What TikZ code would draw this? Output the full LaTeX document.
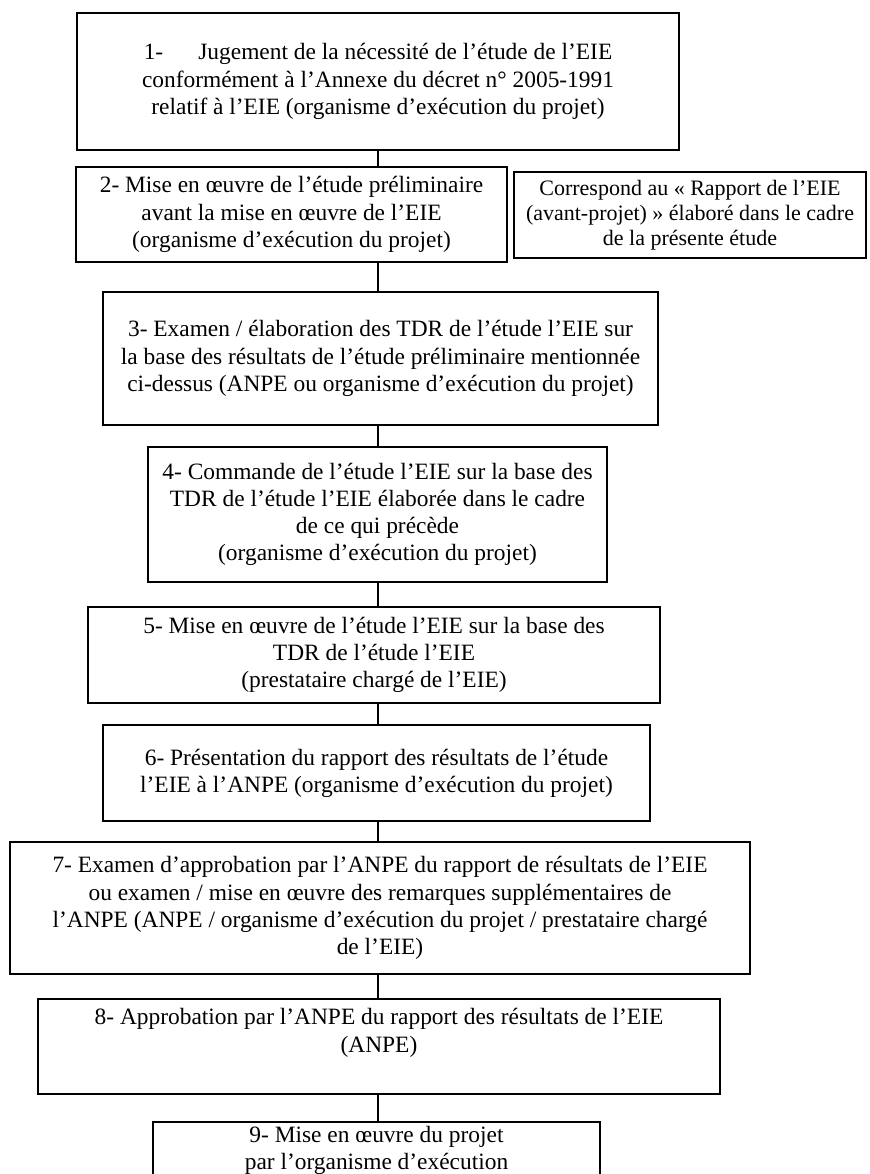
\documentclass[tikz,border=0pt]{standalone}
\usepackage{fontspec}
\setmainfont{Liberation Serif}
\usetikzlibrary{positioning}

\tikzset{
  stepbox/.style={draw,line width=0.9pt,align=center,inner sep=0pt,
    font=\fontsize{11.7}{13.6}\selectfont},
  notebox/.style={stepbox,font=\fontsize{11}{12.6}\selectfont},
  link/.style={line width=0.7pt}
}

\begin{document}
\begin{tikzpicture}[x=0.5pt,y=-0.5pt]
  \useasboundingbox (0,0) rectangle (869,1174);
  \clip (0,0) rectangle (869,1174);
  \coordinate (axis) at (378,0);

  \node[stepbox,minimum width=301pt,minimum height=68.5pt] (s1) at (378,81.5)
    {1-\hspace{1.5em}Jugement de la nécessité de l’étude de l’EIE\\
     conformément à l’Annexe du décret n° 2005-1991\\
     relatif à l’EIE (organisme d’exécution du projet)};
  \node[stepbox,minimum width=215.5pt,minimum height=47.5pt] (s2) at (291.5,214.5)
    {2- Mise en œuvre de l’étude préliminaire\\
     avant la mise en œuvre de l’EIE\\
     (organisme d’exécution du projet)};
  \node[notebox,minimum width=176pt,minimum height=43pt] (note) at (690,215)
    {Correspond au « Rapport de l’EIE\\
     (avant-projet) » élaboré dans le cadre\\
     de la présente étude};
  \node[stepbox,minimum width=277.5pt,minimum height=66.5pt] (s3) at (380.5,358.5)
    {3- Examen / élaboration des TDR de l’étude l’EIE sur\\
     la base des résultats de l’étude préliminaire mentionnée\\
     ci-dessus (ANPE ou organisme d’exécution du projet)};
  \node[stepbox,minimum width=229.5pt,minimum height=67.5pt] (s4) at (377.5,514.5)
    {4- Commande de l’étude l’EIE sur la base des\\
     TDR de l’étude l’EIE élaborée dans le cadre\\
     de ce qui précède\\
     (organisme d’exécution du projet)};
  \node[stepbox,minimum width=286pt,minimum height=48pt] (s5) at (374,655)
    {5- Mise en œuvre de l’étude l’EIE sur la base des\\
     TDR de l’étude l’EIE\\
     (prestataire chargé de l’EIE)};
  \node[stepbox,minimum width=273.5pt,minimum height=48pt] (s6) at (376.5,773)
    {6- Présentation du rapport des résultats de l’étude\\
     l’EIE à l’ANPE (organisme d’exécution du projet)};
  \node[stepbox,minimum width=370pt,minimum height=66pt] (s7) at (380,908)
    {7- Examen d’approbation par l’ANPE du rapport de résultats de l’EIE\\
     ou examen / mise en œuvre des remarques supplémentaires de\\
     l’ANPE (ANPE / organisme d’exécution du projet / prestataire chargé\\
     de l’EIE)};
  \node[stepbox,minimum width=341pt,minimum height=47.5pt] (s8) at (379,1046.5)
    {8- Approbation par l’ANPE du rapport des résultats de l’EIE\\
     (ANPE)\\
     \phantom{(ANPE)}};
  \node[stepbox,minimum width=223.5pt,inner ysep=2pt,text depth=40pt,anchor=north]
    (s9) at (376.5,1121)
    {9- Mise en œuvre du projet\\
     par l’organisme d’exécution};

  \foreach \a/\b in {s1/s2,s2/s3,s3/s4,s4/s5,s5/s6,s6/s7,s7/s8,s8/s9}
    \draw[link] (\a.south -| axis) -- (\b.north -| axis);
\end{tikzpicture}
\end{document}
